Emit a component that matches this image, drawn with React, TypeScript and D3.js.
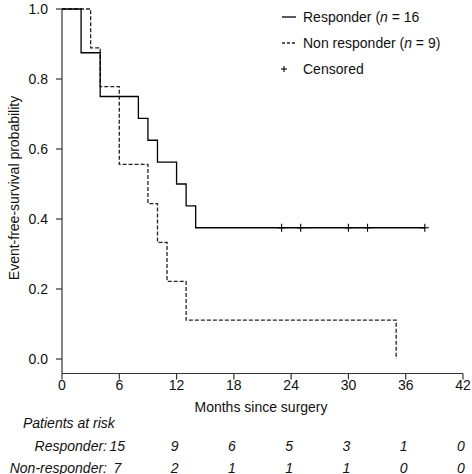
import React from "react";
import * as d3 from "d3";

const xTicks = [0, 6, 12, 18, 24, 30, 36, 42];
const yTicks = [0, 0.2, 0.4, 0.6, 0.8, 1.0];

const responderTimes = [0, 2, 4, 8, 9, 10, 12, 13, 14, 38];
const responderSurv = [1, 0.875, 0.75, 0.6875, 0.625, 0.5625, 0.5, 0.4375, 0.375, 0.375];
const responderCensored = [23, 25, 30, 32, 38];

const nonTimes = [0, 3, 4, 6, 9, 10, 11, 13, 35];
const nonSurv = [1, 0.889, 0.778, 0.556, 0.444, 0.333, 0.222, 0.111, 0];

const riskTimes = [6, 12, 18, 24, 30, 36, 42];
const riskResponder = ["15", "9", "6", "5", "3", "1", "0"];
const riskNon = ["7", "2", "1", "1", "1", "0", "0"];

const FONT = "'Liberation Sans', Arial, Helvetica, sans-serif";

export default function App() {
  const x = d3.scaleLinear().domain([0, 42]).range([62, 463]);
  const y = d3.scaleLinear().domain([0, 1]).range([359, 9]);
  const axisY = 373.5;

  const line = d3
    .line<[number, number]>()
    .x((d) => x(d[0]))
    .y((d) => y(d[1]))
    .curve(d3.curveStepAfter);

  const respPts = responderTimes.map((t, i) => [t, responderSurv[i]] as [number, number]);
  const nonPts = nonTimes.map((t, i) => [t, nonSurv[i]] as [number, number]);

  const fs = 14;
  const axisColor = "#333";
  const txt = "#111";

  return (
    <svg
      width={472}
      height={474}
      style={{ position: "absolute", left: 0, top: 0, background: "#fff" }}
      fontFamily={FONT}
    >
      <rect x={0} y={0} width={472} height={474} fill="#fff" />
      {/* y axis */}
      <line x1={x(0)} x2={x(0)} y1={y(1)} y2={axisY} stroke={axisColor} strokeWidth={1.2} />
      {yTicks.map((t) => (
        <g key={"y" + t}>
          <line x1={x(0) - 6} x2={x(0)} y1={y(t)} y2={y(t)} stroke={axisColor} strokeWidth={1.2} />
          <text x={x(0) - 14} y={y(t)} dy="0.35em" textAnchor="end" fontSize={fs} fill={txt}>
            {t.toFixed(1)}
          </text>
        </g>
      ))}
      <text
        transform={`translate(19,188) rotate(-90)`}
        textAnchor="middle"
        fontSize={fs}
        fill={txt}
      >
        Event-free-survival probability
      </text>
      {/* x axis */}
      <line x1={x(0)} x2={x(42)} y1={axisY} y2={axisY} stroke={axisColor} strokeWidth={1.2} />
      {xTicks.map((t) => (
        <g key={"x" + t}>
          <line x1={x(t)} x2={x(t)} y1={axisY} y2={axisY + 6} stroke={axisColor} strokeWidth={1.2} />
          <text x={x(t)} y={390} textAnchor="middle" fontSize={fs} fill={txt}>
            {t}
          </text>
        </g>
      ))}
      <text x={261} y={412} textAnchor="middle" fontSize={fs} fill={txt}>
        Months since surgery
      </text>

      {/* curves */}
      <path d={line(nonPts) || ""} fill="none" stroke="#222" strokeWidth={1.3} strokeDasharray="4,2" />
      <path d={line(respPts) || ""} fill="none" stroke="#000" strokeWidth={1.3} />
      {responderCensored.map((t, i) => (
        <g key={"c" + i} stroke="#000" strokeWidth={1.1}>
          <line x1={x(t) - 4} x2={x(t) + 4} y1={y(0.375)} y2={y(0.375)} />
          <line x1={x(t)} x2={x(t)} y1={y(0.375) - 4} y2={y(0.375) + 4} />
        </g>
      ))}

      {/* legend */}
      <line x1={282} x2={296} y1={17} y2={17} stroke="#000" strokeWidth={1.3} />
      <text x={303} y={17} dy="0.35em" fontSize={fs} fill={txt}>
        Responder (<tspan fontStyle="italic">n</tspan> = 16
      </text>
      <line x1={282} x2={296} y1={43} y2={43} stroke="#222" strokeWidth={1.3} strokeDasharray="3,2" />
      <text x={303} y={43} dy="0.35em" fontSize={fs} fill={txt}>
        Non responder (<tspan fontStyle="italic">n</tspan> = 9)
      </text>
      <g stroke="#000" strokeWidth={1.1}>
        <line x1={281} x2={287} y1={69} y2={69} />
        <line x1={284} x2={284} y1={66} y2={72} />
      </g>
      <text x={303} y={69} dy="0.35em" fontSize={fs} fill={txt}>
        Censored
      </text>

      {/* at risk */}
      <text x={23} y={428} fontSize={fs} fontStyle="italic" fill={txt}>
        Patients at risk
      </text>
      <text x={107} y={450.5} textAnchor="end" fontSize={fs} fontStyle="italic" fill={txt}>
        Responder:
      </text>
      <text x={107} y={472.5} textAnchor="end" fontSize={fs} fontStyle="italic" fill={txt}>
        Non-responder:
      </text>
      {riskTimes.map((t, i) => (
        <g key={"r" + i}>
          <text x={x(t) - 2} y={450.5} textAnchor="middle" fontSize={fs} fontStyle="italic" fill={txt}>
            {riskResponder[i]}
          </text>
          <text x={x(t) - 2} y={472.5} textAnchor="middle" fontSize={fs} fontStyle="italic" fill={txt}>
            {riskNon[i]}
          </text>
        </g>
      ))}
    </svg>
  );
}
